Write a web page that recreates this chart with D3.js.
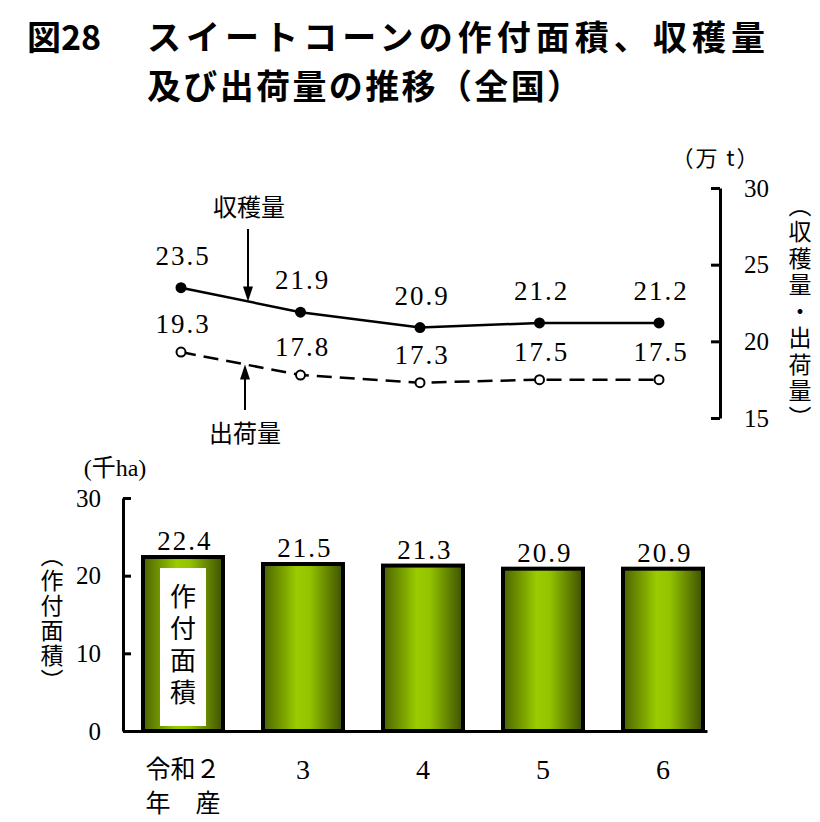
<!DOCTYPE html>
<html>
<head>
<meta charset="utf-8">
<script src="https://cdn.jsdelivr.net/npm/d3@7"></script>
<style>
  body { margin: 0; background: #fff; }
  svg { display: block; }
</style>
</head>
<body>
<div id="chart"></div>
<script>
// data
const years = ['R2', 'R3', 'R4', 'R5', 'R6'];
const yearLabels = [['令和２', '年　産'], ['3'], ['4'], ['5'], ['6']];
const area = [22.4, 21.5, 21.3, 20.9, 20.9];        // 作付面積 (千ha)
const harvest = [23.5, 21.9, 20.9, 21.2, 21.2];     // 収穫量 (万t)
const shipment = [19.3, 17.8, 17.3, 17.5, 17.5];    // 出荷量 (万t)
const areaTicks = [0, 10, 20, 30];
const tonTicks = [15, 20, 25, 30];

const width = 820;
const height = 822;
const serif = '"Liberation Serif", "DejaVu Serif", "Noto Sans CJK JP", serif';
const cjk = '"Noto Sans CJK JP", sans-serif';
const fmt = d3.format('.1f');

const svg = d3.select('#chart')
  .append('svg')
  .attr('width', width)
  .attr('height', height);

// gradient for the bars
const grad = svg.append('defs')
  .append('linearGradient')
  .attr('id', 'barGrad')
  .attr('x1', '0%').attr('x2', '100%')
  .attr('y1', '0%').attr('y2', '0%');
grad.append('stop').attr('offset', '0%').attr('stop-color', '#4b6200');
grad.append('stop').attr('offset', '42%').attr('stop-color', '#9acc00');
grad.append('stop').attr('offset', '58%').attr('stop-color', '#94c400');
grad.append('stop').attr('offset', '100%').attr('stop-color', '#3d5000');

// title
const titleG = svg.append('g')
  .attr('font-family', cjk)
  .attr('font-weight', 'bold')
  .attr('font-size', 34)
  .attr('fill', '#000');
titleG.append('text').attr('x', 27).attr('y', 50).text('図28');
titleG.append('text').attr('x', 147).attr('y', 50)
  .attr('textLength', 618)
  .text('スイートコーンの作付面積、収穫量');
titleG.append('text').attr('x', 147).attr('y', 99)
  .attr('textLength', 434)
  .text('及び出荷量の推移（全国）');

// ---------- top: line chart ----------
const xPoint = d3.scalePoint().domain(years).range([181, 659]);
const yTon = d3.scaleLinear().domain([15, 30]).range([418, 188]);

const tonAxis = svg.append('g')
  .attr('transform', 'translate(720,0)')
  .call(d3.axisRight(yTon).tickValues(tonTicks).tickSizeInner(-9).tickSizeOuter(0).tickPadding(24));
tonAxis.selectAll('path, line').attr('stroke', '#000').attr('stroke-width', 3);
tonAxis.selectAll('text')
  .attr('font-family', serif)
  .attr('font-size', 25)
  .attr('fill', '#000');

svg.append('text')
  .attr('x', 716).attr('y', 156)
  .attr('text-anchor', 'middle')
  .attr('dominant-baseline', 'central')
  .attr('font-family', cjk)
  .attr('font-size', 22)
  .attr('letter-spacing', 2)
  .text('（万 t）');

svg.append('text')
  .attr('x', 800).attr('y', 313)
  .attr('text-anchor', 'middle')
  .attr('font-family', cjk)
  .attr('font-size', 23)
  .style('writing-mode', 'vertical-rl')
  .attr('letter-spacing', 3.5)
  .text('（収穫量・出荷量）');

const line = d3.line()
  .x((d, i) => xPoint(years[i]))
  .y((d) => yTon(d));

svg.append('path')
  .datum(harvest)
  .attr('d', line)
  .attr('fill', 'none')
  .attr('stroke', '#000')
  .attr('stroke-width', 2.5);

svg.append('path')
  .datum(shipment)
  .attr('d', line)
  .attr('fill', 'none')
  .attr('stroke', '#000')
  .attr('stroke-width', 2.5)
  .attr('stroke-dasharray', '15,8');

svg.append('g')
  .selectAll('circle')
  .data(harvest)
  .join('circle')
  .attr('cx', (d, i) => xPoint(years[i]))
  .attr('cy', (d) => yTon(d))
  .attr('r', 5.5)
  .attr('fill', '#000');

svg.append('g')
  .selectAll('circle')
  .data(shipment)
  .join('circle')
  .attr('cx', (d, i) => xPoint(years[i]))
  .attr('cy', (d) => yTon(d))
  .attr('r', 4.5)
  .attr('fill', '#fff')
  .attr('stroke', '#000')
  .attr('stroke-width', 2);

function valueLabels(values, offset) {
  svg.append('g')
    .selectAll('text')
    .data(values)
    .join('text')
    .attr('x', (d, i) => xPoint(years[i]) + 2)
    .attr('y', (d) => yTon(d) - offset)
    .attr('text-anchor', 'middle')
    .attr('dominant-baseline', 'central')
    .attr('font-family', serif)
    .attr('font-size', 27)
    .attr('letter-spacing', 2)
    .text((d) => fmt(d));
}
valueLabels(harvest, 32);
valueLabels(shipment, 28);

// annotation arrows
const arrowG = svg.append('g').attr('fill', '#000').attr('stroke', '#000');
function arrow(x, y0, y1) {
  const dir = y1 > y0 ? 1 : -1;
  arrowG.append('line')
    .attr('x1', x).attr('x2', x)
    .attr('y1', y0).attr('y2', y1 - dir * 12)
    .attr('stroke-width', 2);
  arrowG.append('path')
    .attr('stroke', 'none')
    .attr('d', `M${x - 5},${y1 - dir * 15}L${x + 5},${y1 - dir * 15}L${x},${y1}Z`);
}
// arrow tips land on the lines between the first two points
const harvestMid = yTon(harvest[0]) + (yTon(harvest[1]) - yTon(harvest[0])) * (248 - xPoint(years[0])) / (xPoint(years[1]) - xPoint(years[0]));
const shipMid = yTon(shipment[0]) + (yTon(shipment[1]) - yTon(shipment[0])) * (245 - xPoint(years[0])) / (xPoint(years[1]) - xPoint(years[0]));
arrow(248, 229, harvestMid);
arrow(245, 410, shipMid);

svg.append('text')
  .attr('x', 249).attr('y', 205)
  .attr('text-anchor', 'middle')
  .attr('dominant-baseline', 'central')
  .attr('font-family', cjk)
  .attr('font-size', 24)
  .text('収穫量');
svg.append('text')
  .attr('x', 245).attr('y', 431)
  .attr('text-anchor', 'middle')
  .attr('dominant-baseline', 'central')
  .attr('font-family', cjk)
  .attr('font-size', 24)
  .text('出荷量');

// ---------- bottom: bar chart ----------
const xBand = d3.scaleBand()
  .domain(years)
  .range([123, 707])
  .paddingInner(1 / 3)
  .paddingOuter(0.1)
  .align(0.8333);
const yArea = d3.scaleLinear().domain([0, 30]).range([731, 498]);

svg.append('g')
  .selectAll('rect')
  .data(area)
  .join('rect')
  .attr('x', (d, i) => xBand(years[i]))
  .attr('y', (d) => yArea(d))
  .attr('width', xBand.bandwidth())
  .attr('height', (d) => yArea(0) - yArea(d))
  .attr('fill', 'url(#barGrad)')
  .attr('stroke', '#000')
  .attr('stroke-width', 4);

svg.append('g')
  .selectAll('text')
  .data(area)
  .join('text')
  .attr('x', (d, i) => xBand(years[i]) + xBand.bandwidth() / 2 + 2)
  .attr('y', (d) => yArea(d) - 16)
  .attr('text-anchor', 'middle')
  .attr('dominant-baseline', 'central')
  .attr('font-family', serif)
  .attr('font-size', 27)
  .attr('letter-spacing', 2)
  .text((d) => fmt(d));

// white label box inside first bar
const bx = xBand(years[0]);
svg.append('rect')
  .attr('x', bx + 17)
  .attr('y', yArea(area[0]) + 11)
  .attr('width', xBand.bandwidth() - 34)
  .attr('height', yArea(0) - yArea(area[0]) - 16)
  .attr('fill', '#fff');
svg.append('text')
  .attr('x', bx + xBand.bandwidth() / 2)
  .attr('y', (yArea(area[0]) + 11 + yArea(0) - 5) / 2)
  .attr('text-anchor', 'middle')
  .attr('font-family', cjk)
  .attr('font-size', 26)
  .attr('letter-spacing', 6)
  .style('writing-mode', 'vertical-rl')
  .text('作付面積');

const xAxis = svg.append('g')
  .attr('transform', `translate(0,${yArea(0)})`)
  .call(d3.axisBottom(xBand).tickSize(0).tickSizeOuter(0).tickFormat(''));
xAxis.select('path').attr('stroke', '#000').attr('stroke-width', 3);

const yAxis = svg.append('g')
  .attr('transform', 'translate(123,0)')
  .call(d3.axisLeft(yArea).tickValues(areaTicks).tickSizeInner(-8).tickSizeOuter(0).tickPadding(22));
yAxis.selectAll('path, line').attr('stroke', '#000').attr('stroke-width', 3);
yAxis.selectAll('text')
  .attr('font-family', serif)
  .attr('font-size', 25)
  .attr('fill', '#000');

svg.append('text')
  .attr('x', 115).attr('y', 468)
  .attr('text-anchor', 'middle')
  .attr('dominant-baseline', 'central')
  .attr('font-family', serif)
  .attr('font-size', 24)
  .text('(千ha)');

svg.append('text')
  .attr('x', 52).attr('y', 619)
  .attr('text-anchor', 'middle')
  .attr('font-family', cjk)
  .attr('font-size', 23)
  .attr('letter-spacing', 2)
  .style('writing-mode', 'vertical-rl')
  .text('（作付面積）');

// category labels
const catG = svg.append('g');
yearLabels.forEach((lines, i) => {
  const cx = xBand(years[i]) + xBand.bandwidth() / 2;
  lines.forEach((t, j) => {
    catG.append('text')
      .attr('x', cx)
      .attr('y', 769 + j * 34)
      .attr('text-anchor', 'middle')
      .attr('dominant-baseline', 'central')
      .attr('font-family', serif)
      .attr('font-size', lines.length > 1 ? 25 : 28)
      .text(t);
  });
});
</script>
</body>
</html>
